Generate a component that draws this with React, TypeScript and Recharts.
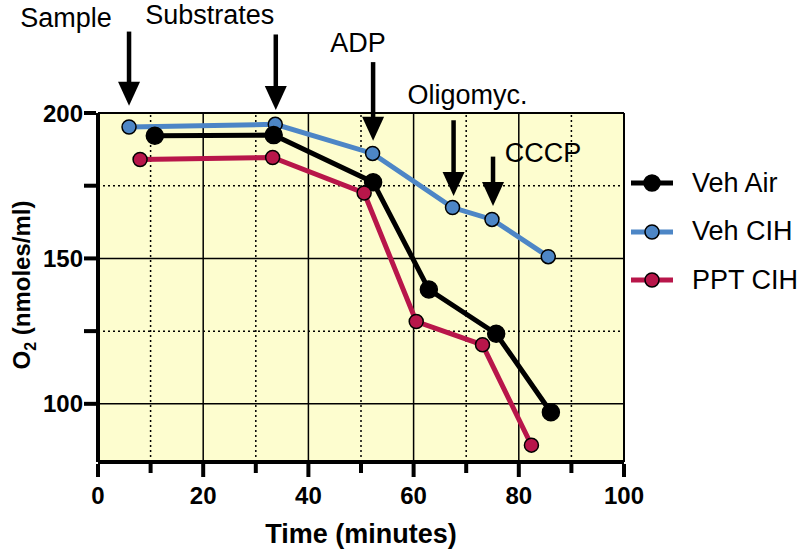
import {
  LineChart,
  Line,
  XAxis,
  YAxis,
  ReferenceLine,
  ReferenceArea,
} from "recharts";

// values: [time (min), O2 (nmoles/ml)]
const vehAir = [
  { x: 10.8, y: 192.2 },
  { x: 33.4, y: 192.4 },
  { x: 52.3, y: 176.2 },
  { x: 62.9, y: 139.3 },
  { x: 75.7, y: 124.1 },
  { x: 86.1, y: 97.1 },
];

const vehCIH = [
  { x: 5.9, y: 195.2 },
  { x: 33.7, y: 196.1 },
  { x: 52.2, y: 186.1 },
  { x: 67.4, y: 167.5 },
  { x: 74.9, y: 163.4 },
  { x: 85.6, y: 150.6 },
];

const pptCIH = [
  { x: 8.0, y: 184.0 },
  { x: 33.2, y: 184.7 },
  { x: 50.6, y: 172.5 },
  { x: 60.5, y: 128.3 },
  { x: 73.1, y: 120.3 },
  { x: 82.4, y: 85.8 },
];

const xTicks = [0, 10, 20, 30, 40, 50, 60, 70, 80, 90, 100];
const yTicks = [100, 125, 150, 175, 200];
const xMajor = [20, 40, 60, 80];
const xMinor = [10, 30, 50, 70, 90];
const yMajor = [100, 150];
const yMinor = [125, 175];

// additions marked with arrows: time, arrow top / tip in O2 units
const additions = [
  { label: "Sample", x: 5.9, top: 228, tip: 202.5, dx: -63, dy: -14 },
  { label: "Substrates", x: 33.8, top: 227, tip: 201, dx: -66, dy: -20 },
  { label: "ADP", x: 52.3, top: 217.5, tip: 190.5, dx: -15, dy: -20 },
  { label: "Oligomyc.", x: 67.6, top: 197.5, tip: 171.5, dx: 14, dy: -26 },
  { label: "CCCP", x: 75.1, top: 185, tip: 168, dx: 50, dy: -4 },
];

const BLUE = "#4d86c6";
const RED = "#b8164a";
const FONT = "'Liberation Sans', Arial, sans-serif";

const series = [
  { name: "Veh Air", color: "#000", r: 8 },
  { name: "Veh CIH", color: BLUE, r: 7 },
  { name: "PPT CIH", color: RED, r: 7 },
];

const XTick = ({ x, y, payload }: any) => {
  const major = payload.value % 20 === 0;
  return (
    <g>
      <line x1={x} x2={x} y1={y} y2={y + (major ? 13 : 9)} stroke="#000" strokeWidth={4} />
      {major && (
        <text x={x} y={y + 40} textAnchor="middle" fontFamily={FONT} fontWeight="bold" fontSize={24} fill="#000">
          {payload.value}
        </text>
      )}
    </g>
  );
};

const YTick = ({ x, y, payload }: any) => {
  const major = payload.value % 50 === 0;
  return (
    <g>
      <line x1={x - 12} x2={x} y1={y} y2={y} stroke="#000" strokeWidth={4} />
      {major && (
        <text x={x - 13} y={y} dy="0.36em" textAnchor="end" fontFamily={FONT} fontWeight="bold" fontSize={24} fill="#000">
          {payload.value}
        </text>
      )}
    </g>
  );
};

const YLabel = () => {
  const cx = 30;
  const cy = 285;
  return (
    <text
      x={cx}
      y={cy}
      transform={`rotate(-90, ${cx}, ${cy})`}
      textAnchor="middle"
      fontFamily={FONT}
      fontWeight="bold"
      fontSize={24}
      fill="#000"
    >
      <tspan>O</tspan>
      <tspan dy={6} fontSize={16}>2</tspan>
      <tspan dy={-6}> (nmoles/ml)</tspan>
    </text>
  );
};

const arrowShape = (label: string, dx: number, dy: number) => (p: any) => {
  const { x1, y1, x2, y2 } = p;
  const head = 24;
  return (
    <g>
      <line x1={x1} y1={y1} x2={x2} y2={y2 - head + 2} stroke="#000" strokeWidth={4.5} />
      <polygon points={`${x2 - 11},${y2 - head} ${x2 + 11},${y2 - head} ${x2},${y2}`} fill="#000" />
      <text x={x1 + dx} y={y1 + dy} dy="0.35em" textAnchor="middle" fontFamily={FONT} fontSize={27} fill="#000">
        {label}
      </text>
    </g>
  );
};

const LegendBox = () => (
  <div
    style={{
      position: "absolute",
      left: 630,
      top: 159,
      width: 170,
      fontFamily: FONT,
      fontSize: 27,
      whiteSpace: "nowrap",
    }}
  >
    {series.map((s) => (
      <div key={s.name} style={{ display: "flex", alignItems: "center", height: 48.5 }}>
        <svg width={44} height={24} style={{ marginRight: 18 }}>
          <line x1={1} x2={43} y1={12} y2={12} stroke={s.color} strokeWidth={5} />
          <circle cx={22} cy={12} r={s.r} fill={s.color} stroke="#000" strokeWidth={1.5} />
        </svg>
        <span>{s.name}</span>
      </div>
    ))}
  </div>
);

export default function App() {
  return (
    <div style={{ position: "absolute", left: 0, top: 0, width: 800, height: 550 }}>
      <LineChart width={800} height={550} margin={{ top: 113, right: 176, bottom: 0, left: 0 }}>
        <XAxis
          type="number"
          dataKey="x"
          domain={[0, 100]}
          ticks={xTicks}
          interval={0}
          tickSize={0}
          tickLine={false}
          tick={<XTick />}
          axisLine={{ stroke: "#000", strokeWidth: 4 }}
          height={88}
          label={{
            value: "Time (minutes)",
            position: "insideBottom",
            offset: 7,
            fontFamily: FONT,
            fontWeight: "bold",
            fontSize: 27,
            fill: "#000",
          }}
        />
        <YAxis
          type="number"
          dataKey="y"
          domain={[80, 200]}
          ticks={yTicks}
          interval={0}
          tickSize={0}
          tickLine={false}
          tick={<YTick />}
          axisLine={{ stroke: "#000", strokeWidth: 4 }}
          width={98}
          label={{ content: <YLabel /> }}
        />
        <ReferenceArea x1={0} x2={100} y1={80} y2={200} fill="#fdfdcf" fillOpacity={1} stroke="none" />
        {xMinor.map((v) => (
          <ReferenceLine key={"xm" + v} x={v} stroke="#000" strokeWidth={1.5} strokeDasharray="2 3" />
        ))}
        {yMinor.map((v) => (
          <ReferenceLine key={"ym" + v} y={v} stroke="#000" strokeWidth={1.5} strokeDasharray="2 3" />
        ))}
        {xMajor.map((v) => (
          <ReferenceLine key={"xM" + v} x={v} stroke="#000" strokeWidth={1.5} />
        ))}
        {yMajor.map((v) => (
          <ReferenceLine key={"yM" + v} y={v} stroke="#000" strokeWidth={1.5} />
        ))}
        <ReferenceLine y={200} stroke="#000" strokeWidth={2} />
        <ReferenceLine x={100} stroke="#000" strokeWidth={2} />
        <Line
          data={vehCIH}
          dataKey="y"
          name="Veh CIH"
          stroke={BLUE}
          strokeWidth={5}
          dot={{ r: 7, fill: BLUE, stroke: "#000", strokeWidth: 1.5 }}
          isAnimationActive={false}
        />
        <Line
          data={vehAir}
          dataKey="y"
          name="Veh Air"
          stroke="#000"
          strokeWidth={5}
          dot={{ r: 8.5, fill: "#000", stroke: "#000", strokeWidth: 1.5 }}
          isAnimationActive={false}
        />
        <Line
          data={pptCIH}
          dataKey="y"
          name="PPT CIH"
          stroke={RED}
          strokeWidth={5}
          dot={{ r: 7, fill: RED, stroke: "#000", strokeWidth: 1.5 }}
          isAnimationActive={false}
        />
        {additions.map((a) => (
          <ReferenceLine
            key={a.label}
            segment={[
              { x: a.x, y: a.top },
              { x: a.x, y: a.tip },
            ]}
            ifOverflow="visible"
            shape={arrowShape(a.label, a.dx, a.dy)}
          />
        ))}
      </LineChart>
      <LegendBox />
    </div>
  );
}
